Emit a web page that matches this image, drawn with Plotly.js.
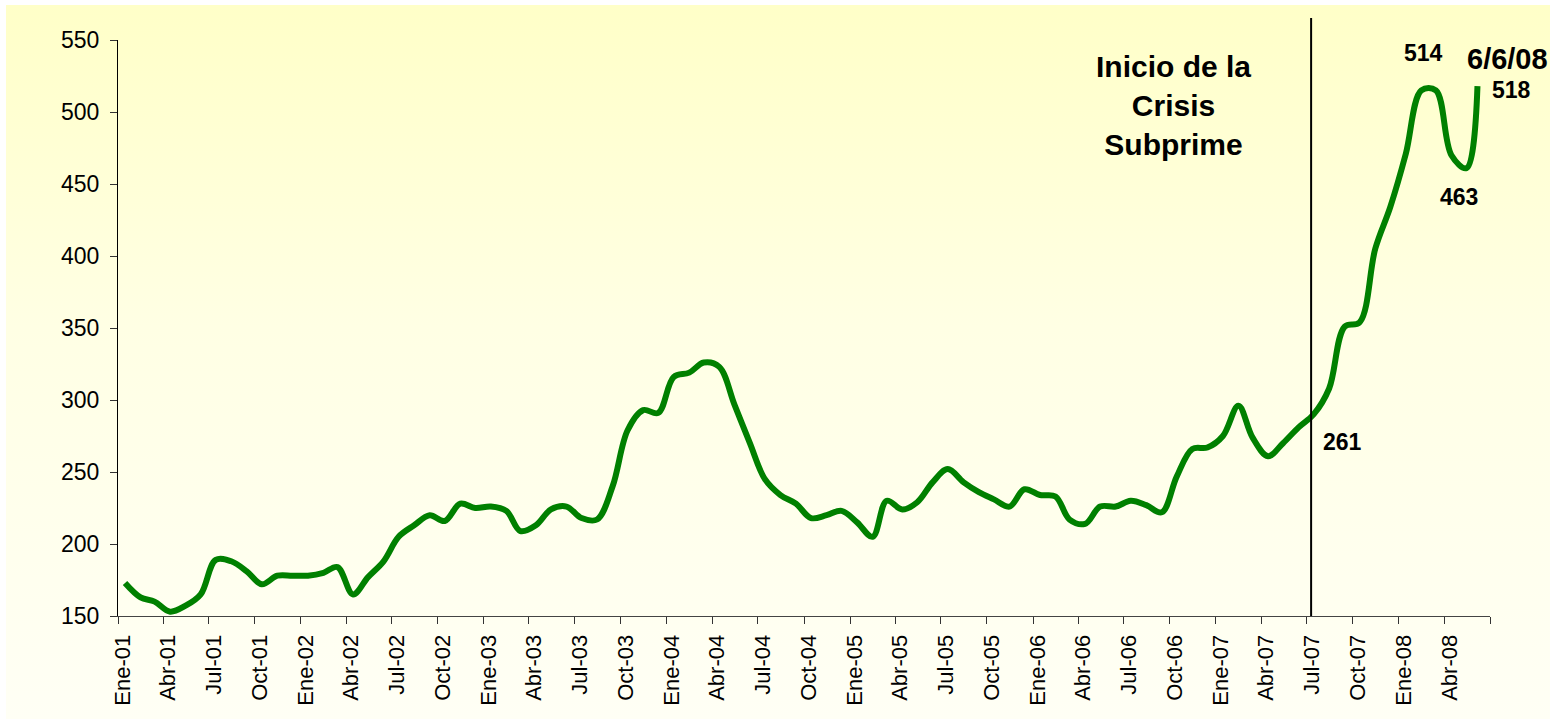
<!DOCTYPE html>
<html>
<head>
<meta charset="utf-8">
<script src="https://cdn.plot.ly/plotly-3.0.1.min.js"></script>
<style>
  html, body { margin:0; padding:0; background:#ffffff; }
  #bg { position:absolute; left:6px; top:5px; width:1544px; height:714px;
        background: linear-gradient(to bottom, #FFFFC8 0%, #FFFFE4 45%, #FFFFF5 100%); }
  #chart { position:absolute; left:0; top:0; width:1550px; height:719px; }
</style>
</head>
<body>
<div id="bg"></div>
<div id="chart"></div>
<script>
// Monthly series, Jan-2001 .. Jun-2008 (plotted mid-month)
const months = [
  '2001-01-15','2001-02-15','2001-03-15','2001-04-15','2001-05-15','2001-06-15','2001-07-15','2001-08-15','2001-09-15','2001-10-15','2001-11-15','2001-12-15',
  '2002-01-15','2002-02-15','2002-03-15','2002-04-15','2002-05-15','2002-06-15','2002-07-15','2002-08-15','2002-09-15','2002-10-15','2002-11-15','2002-12-15',
  '2003-01-15','2003-02-15','2003-03-15','2003-04-15','2003-05-15','2003-06-15','2003-07-15','2003-08-15','2003-09-15','2003-10-15','2003-11-15','2003-12-15',
  '2004-01-15','2004-02-15','2004-03-15','2004-04-15','2004-05-15','2004-06-15','2004-07-15','2004-08-15','2004-09-15','2004-10-15','2004-11-15','2004-12-15',
  '2005-01-15','2005-02-15','2005-03-15','2005-04-15','2005-05-15','2005-06-15','2005-07-15','2005-08-15','2005-09-15','2005-10-15','2005-11-15','2005-12-15',
  '2006-01-15','2006-02-15','2006-03-15','2006-04-15','2006-05-15','2006-06-15','2006-07-15','2006-08-15','2006-09-15','2006-10-15','2006-11-15','2006-12-15',
  '2007-01-15','2007-02-15','2007-03-15','2007-04-15','2007-05-15','2007-06-15','2007-07-15','2007-08-15','2007-09-15','2007-10-15','2007-11-15','2007-12-15',
  '2008-01-15','2008-02-15','2008-03-15','2008-04-15','2008-05-15','2008-06-06'
];
const values = [
  173,163,160,153,157,165,189,188,181,172,178,178,
  178,180,184,165,177,188,205,213,220,216,228,225,
  226,223,209,213,224,226,218,217,240,279,293,291,
  316,319,326,323,297,270,245,234,228,218,220,223,
  215,205,230,224,229,243,252,243,236,231,226,238,
  234,233,217,214,226,226,230,227,222,247,266,267,
  275,296,274,261,270,281,290,308,351,354,405,434,
  471,515,515,470,461,518
];
const tickDates = [
  '2001-01-01','2001-04-01','2001-07-01','2001-10-01','2002-01-01','2002-04-01','2002-07-01','2002-10-01',
  '2003-01-01','2003-04-01','2003-07-01','2003-10-01','2004-01-01','2004-04-01','2004-07-01','2004-10-01',
  '2005-01-01','2005-04-01','2005-07-01','2005-10-01','2006-01-01','2006-04-01','2006-07-01','2006-10-01',
  '2007-01-01','2007-04-01','2007-07-01','2007-10-01','2008-01-01','2008-04-01','2008-07-01'
];
const tickLabels = [
  'Ene-01','Abr-01','Jul-01','Oct-01','Ene-02','Abr-02','Jul-02','Oct-02',
  'Ene-03','Abr-03','Jul-03','Oct-03','Ene-04','Abr-04','Jul-04','Oct-04',
  'Ene-05','Abr-05','Jul-05','Oct-05','Ene-06','Abr-06','Jul-06','Oct-06',
  'Ene-07','Abr-07','Jul-07','Oct-07','Ene-08','Abr-08',''
];
const crisisDate = '2007-07-10';
const crisisText = 'Inicio de la<br>Crisis<br>Subprime';
const pointLabels = [
  {text:'514', x:'2008-02-20', y:541, anchor:'center'},
  {text:'463', x:'2008-05-01', y:441, anchor:'center'},
  {text:'518', x:'2008-07-01', y:515, anchor:'left'},
  {text:'261', x:'2007-07-30', y:271, anchor:'left'}
];
const dateLabel = {text:'6/6/08', x:'2008-05-12', y:537};

const FONT = 'Liberation Sans, Arial, sans-serif';

const trace = {
  x: months, y: values, type:'scatter', mode:'lines',
  line:{color:'#008000', width:6, shape:'spline', smoothing:1},
  hoverinfo:'skip'
};

const annotations = [
  {text:'<b>'+crisisText+'</b>', xref:'paper', yref:'paper', x:0.769, y:0.887, xanchor:'center', yanchor:'middle',
   showarrow:false, font:{family:FONT, size:30, color:'#000'}, align:'center'}
];
pointLabels.forEach(p => annotations.push({
  text:'<b>'+p.text+'</b>', x:p.x, y:p.y, xref:'x', yref:'y', showarrow:false,
  xanchor:p.anchor, yanchor:'middle',
  font:{family:FONT, size:23, color:'#000'}
}));
annotations.push({text:'<b>'+dateLabel.text+'</b>', xref:'x', yref:'y', x:dateLabel.x, y:dateLabel.y,
  xanchor:'left', yanchor:'middle', showarrow:false, font:{family:FONT, size:29, color:'#000'}});

const layout = {
  width:1550, height:719,
  margin:{l:118, r:60, t:40, b:103},
  paper_bgcolor:'rgba(0,0,0,0)', plot_bgcolor:'rgba(0,0,0,0)',
  showlegend:false,
  xaxis:{
    type:'date', range:['2001-01-01','2008-07-01'],
    tickmode:'array', tickvals:tickDates, ticktext:tickLabels,
    tickangle:-90, ticks:'outside', ticklen:7, tickcolor:'#333', tickwidth:1,
    ticklabelshift:5, ticklabelstandoff:2,
    showline:true, linecolor:'#444', linewidth:1, showgrid:false, zeroline:false,
    tickfont:{family:FONT, size:22, color:'#000'}
  },
  yaxis:{
    range:[150,550], tickmode:'linear', tick0:150, dtick:50,
    ticks:'outside', ticklen:7, tickcolor:'#333', tickwidth:1,
    ticklabelstandoff:6,
    showline:true, linecolor:'#000', linewidth:1, showgrid:false, zeroline:false,
    tickfont:{family:FONT, size:23, color:'#000'}
  },
  shapes:[
    {type:'line', xref:'x', yref:'paper', x0:crisisDate, x1:crisisDate, y0:0, y1:1.038,
     line:{color:'#000', width:2}}
  ],
  annotations: annotations
};

Plotly.newPlot('chart', [trace], layout, {staticPlot:true, displayModeBar:false});
</script>
</body>
</html>
